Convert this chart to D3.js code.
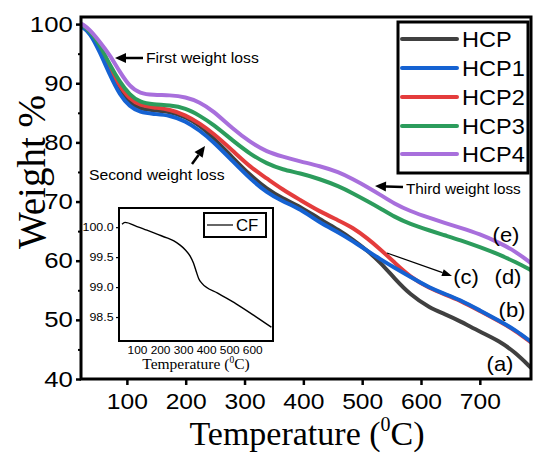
<!DOCTYPE html>
<html><head><meta charset="utf-8">
<script src="https://cdn.jsdelivr.net/npm/d3@7"></script>
<style>body{margin:0;background:#fff;} svg{display:block;}</style>
</head><body><svg id="c" width="533" height="453"></svg>
<script>
// ---------- data ----------
const temps = [24, 37, 54, 71, 88, 105, 122, 145, 173, 200, 224, 246, 280, 310, 338, 365, 394, 428, 460, 484, 510, 530, 555, 581, 615, 640, 666, 700, 734, 760, 787];
const hcp  = [99.6, 98.7, 95.7, 91.8, 88.8, 86.6, 85.7, 85.4, 85.2, 84.3, 82.9, 80.9, 77.4, 74.4, 72.1, 70.5, 69.2, 67.0, 65.2, 63.6, 61.6, 59.8, 57.0, 54.3, 52.0, 51.0, 49.8, 48.0, 46.4, 44.5, 41.9];
const hcp1 = [99.5, 98.6, 95.3, 91.4, 88.0, 86.0, 85.1, 84.8, 84.6, 83.6, 82.0, 80.2, 76.8, 73.8, 71.5, 70.0, 68.8, 66.4, 64.8, 63.3, 61.6, 60.3, 58.8, 57.3, 55.4, 54.4, 53.4, 51.6, 49.8, 48.3, 46.3];
const hcp2 = [99.7, 98.8, 96.0, 92.3, 89.5, 87.3, 86.3, 85.9, 85.6, 84.6, 83.2, 81.6, 78.6, 75.8, 73.9, 72.0, 70.3, 68.3, 66.8, 65.6, 63.7, 62.0, 59.7, 57.3, 55.3, 54.3, 53.3, 51.5, 49.7, 48.2, 46.2];
const hcp3 = [99.8, 98.9, 96.5, 93.1, 90.2, 88.0, 86.8, 86.4, 86.3, 85.8, 84.5, 83.1, 80.3, 78.0, 76.4, 75.4, 74.8, 73.8, 72.6, 71.4, 70.0, 68.9, 67.4, 66.2, 65.1, 64.3, 63.5, 62.3, 61.0, 59.8, 58.4];
const hcp4 = [100.0, 99.1, 97.0, 94.8, 91.9, 89.4, 88.3, 88.0, 88.0, 87.7, 86.8, 85.4, 82.3, 80.0, 78.4, 77.6, 76.8, 76.0, 75.0, 73.8, 72.4, 71.2, 69.6, 68.4, 67.2, 66.4, 65.6, 64.5, 63.0, 61.6, 59.6];
const seriesNames = ["HCP", "HCP1", "HCP2", "HCP3", "HCP4"];
const seriesColors = ["#404040", "#1562d2", "#e43c3c", "#2c9c5c", "#a86fdc"];
const curveLabels = ["(a)", "(b)", "(c)", "(d)", "(e)"];
const xTicks = [100, 200, 300, 400, 500, 600, 700];
const yTicks = [40, 50, 60, 70, 80, 90, 100];
const yMinorTicks = [45, 55, 65, 75, 85, 95];

const cfTemps  = [35, 48, 100, 143, 190, 230, 260, 287, 310, 330, 345, 357, 368, 380, 450, 530, 610, 683];
const cfValues = [100.05, 100.08, 100.01, 99.95, 99.88, 99.82, 99.77, 99.70, 99.62, 99.52, 99.40, 99.26, 99.14, 99.07, 98.90, 98.72, 98.52, 98.33];
const insetXTicks = [100, 200, 300, 400, 500, 600];
const insetYTicks = [98.5, 99.0, 99.5, 100.0];

// ---------- drawing ----------
const svg = d3.select("#c");
const SANS = "Arial, 'Liberation Sans', sans-serif";
const SERIF = "'Times New Roman', 'Liberation Serif', serif";

const L = 81, R = 531, T = 17, B = 379;
const x = d3.scaleLinear().domain([22, 787]).range([L, R]);
const y = d3.scaleLinear().domain([40, 101.2]).range([B, T]);

svg.append("defs").append("clipPath").attr("id", "clipMain")
  .append("rect").attr("x", L).attr("y", T).attr("width", R - L).attr("height", B - T);

const seriesData = [hcp, hcp1, hcp2, hcp3, hcp4];
const line = d3.line().x(d => x(d[0])).y(d => y(d[1])).curve(d3.curveBasis);
const drawOrder = [0, 2, 1, 3, 4];
const gLines = svg.append("g").attr("clip-path", "url(#clipMain)");
drawOrder.forEach(i => {
  gLines.append("path")
    .attr("d", line(temps.map((t, k) => [t, seriesData[i][k]])))
    .attr("fill", "none").attr("stroke", seriesColors[i])
    .attr("stroke-width", 4).attr("stroke-linejoin", "round").attr("stroke-linecap", "round");
});

function stxt(g, px, py, str, size, anchor, sx, family) {
  return g.append("text")
    .attr("transform", `translate(${px},${py}) scale(${sx},1)`)
    .attr("text-anchor", anchor || "start")
    .attr("font-family", family || SANS).attr("font-size", size)
    .attr("fill", "#000").text(str);
}

// axes
const gy = svg.append("g").attr("transform", `translate(${L},0)`)
  .call(d3.axisLeft(y).tickValues(yTicks).tickSize(5).tickPadding(2).tickFormat(d3.format("d")));
gy.select(".domain").remove();
gy.selectAll(".tick line").attr("stroke", "#000").attr("stroke-width", 2.5);
gy.selectAll(".tick text").attr("font-family", SANS).attr("font-size", 22).attr("fill", "#000")
  .attr("transform", "scale(1.17,1)");
const gyMinor = svg.append("g").attr("transform", `translate(${L},0)`)
  .call(d3.axisLeft(y).tickValues(yMinorTicks).tickSize(3).tickFormat(""));
gyMinor.select(".domain").remove();
gyMinor.selectAll(".tick line").attr("stroke", "#000").attr("stroke-width", 2);

const gx = svg.append("g").attr("transform", `translate(0,${B})`)
  .call(d3.axisBottom(x).tickValues(xTicks).tickSize(6).tickPadding(8).tickFormat(d3.format("d")));
gx.select(".domain").remove();
gx.selectAll(".tick line").attr("stroke", "#000").attr("stroke-width", 2.5);
gx.selectAll(".tick text").attr("font-family", SANS).attr("font-size", 22).attr("fill", "#000")
  .attr("transform", "scale(1.12,1)");

// frame
svg.append("rect").attr("x", L).attr("y", T).attr("width", R - L).attr("height", B - T)
  .attr("fill", "none").attr("stroke", "#000").attr("stroke-width", 3);

// axis titles
const xt = svg.append("text").attr("x", 307).attr("y", 445).attr("text-anchor", "middle")
  .attr("font-family", SERIF).attr("font-size", 34).attr("fill", "#000");
xt.append("tspan").text("Temperature (");
xt.append("tspan").attr("font-size", 20).attr("dy", -14).text("0");
xt.append("tspan").attr("dy", 14).text("C)");

svg.append("text").attr("transform", "translate(45,172) rotate(-90)").attr("text-anchor", "middle")
  .attr("font-family", SERIF).attr("font-size", 39).attr("fill", "#000").text("Weight %");

// legend
const lg = svg.append("g");
lg.append("rect").attr("x", 398).attr("y", 22).attr("width", 130).attr("height", 151)
  .attr("fill", "#fff").attr("stroke", "#000").attr("stroke-width", 3);
const rows = [39, 68, 97, 126, 154];
seriesNames.forEach((n, i) => {
  lg.append("line").attr("x1", 402).attr("x2", 457).attr("y1", rows[i]).attr("y2", rows[i])
    .attr("stroke", seriesColors[i]).attr("stroke-width", 4).attr("stroke-linecap", "round");
  stxt(lg, 462, rows[i] + 8, n, 22, "start", 1.07);
});

// annotations
const ann = svg.append("g");
function fatArrow(x1, y1, x2, y2) {
  const ang = Math.atan2(y2 - y1, x2 - x1);
  const hl = 11, hw = 5;
  const bx = x2 - hl * Math.cos(ang), by = y2 - hl * Math.sin(ang);
  ann.append("line").attr("x1", x1).attr("y1", y1).attr("x2", bx).attr("y2", by)
    .attr("stroke", "#000").attr("stroke-width", 2.5);
  const px = -Math.sin(ang), py = Math.cos(ang);
  ann.append("path").attr("d",
    `M${x2},${y2}L${bx + hw * px},${by + hw * py}L${bx - hw * px},${by - hw * py}Z`).attr("fill", "#000");
}
function thinArrow(x1, y1, x2, y2) {
  const ang = Math.atan2(y2 - y1, x2 - x1);
  const hl = 10, hw = 3.5;
  const bx = x2 - hl * Math.cos(ang), by = y2 - hl * Math.sin(ang);
  ann.append("line").attr("x1", x1).attr("y1", y1).attr("x2", bx).attr("y2", by)
    .attr("stroke", "#000").attr("stroke-width", 1.2);
  const px = -Math.sin(ang), py = Math.cos(ang);
  ann.append("path").attr("d",
    `M${x2},${y2}L${bx + hw * px},${by + hw * py}L${bx - hw * px},${by - hw * py}Z`).attr("fill", "#000");
}
fatArrow(143, 58, 115, 58);
stxt(ann, 146, 63, "First weight loss", 15, "start", 1.05);
fatArrow(192, 164, 205, 146);
stxt(ann, 89, 180, "Second weight loss", 15, "start", 1.05);
fatArrow(403, 187, 375, 186);
stxt(ann, 406, 194, "Third weight loss", 15, "start", 1.02);
thinArrow(387, 253, 452, 276);

const labelPos = [[500, 371], [512, 317], [466, 284], [508, 284], [506, 242]];
curveLabels.forEach((c, i) => stxt(ann, labelPos[i][0], labelPos[i][1], c, 20, "middle", 1.1));

// inset
const iL = 119, iR = 273, iT = 208, iB = 341;
const xi = d3.scaleLinear().domain([22, 690]).range([iL, iR]);
const yi = d3.scaleLinear().domain([98.1, 100.32]).range([iB, iT]);
const ins = svg.append("g");
ins.append("rect").attr("x", iL).attr("y", iT).attr("width", iR - iL).attr("height", iB - iT)
  .attr("fill", "#fff");
ins.append("path")
  .attr("d", d3.line().x(d => xi(d[0])).y(d => yi(d[1])).curve(d3.curveMonotoneX)(cfTemps.map((t, k) => [t, cfValues[k]])))
  .attr("fill", "none").attr("stroke", "#000").attr("stroke-width", 1.4);
ins.append("rect").attr("x", iL).attr("y", iT).attr("width", iR - iL).attr("height", iB - iT)
  .attr("fill", "none").attr("stroke", "#000").attr("stroke-width", 2);
const giy = ins.append("g").attr("transform", `translate(${iL},0)`)
  .call(d3.axisLeft(yi).tickValues(insetYTicks).tickSize(3).tickPadding(2).tickFormat(d3.format(".1f")));
giy.select(".domain").remove();
giy.selectAll(".tick line").attr("stroke", "#000").attr("stroke-width", 1.2);
giy.selectAll(".tick text").attr("font-family", SANS).attr("font-size", 11.5).attr("fill", "#000")
  .attr("transform", "scale(1.08,1)");
const gix = ins.append("g").attr("transform", `translate(0,${iB})`)
  .call(d3.axisBottom(xi).tickValues(insetXTicks).tickSize(0).tickPadding(5).tickFormat(d3.format("d")));
gix.select(".domain").remove();
gix.selectAll(".tick text").attr("font-family", SANS).attr("font-size", 11).attr("fill", "#000")
  .attr("transform", "scale(1.08,1)");
const it = ins.append("text").attr("x", 196).attr("y", 369).attr("text-anchor", "middle")
  .attr("font-family", SERIF).attr("font-size", 15.5).attr("fill", "#000");
it.append("tspan").text("Temperature (");
it.append("tspan").attr("font-size", 9.5).attr("dy", -6).text("0");
it.append("tspan").attr("dy", 6).text("C)");
// inset legend
ins.append("rect").attr("x", 204).attr("y", 213).attr("width", 62).attr("height", 24)
  .attr("fill", "#fff").attr("stroke", "#000").attr("stroke-width", 2);
ins.append("line").attr("x1", 207).attr("x2", 233).attr("y1", 225).attr("y2", 225)
  .attr("stroke", "#000").attr("stroke-width", 1.2);
stxt(ins, 236, 231, "CF", 16, "start", 1.05);
</script></body></html>
